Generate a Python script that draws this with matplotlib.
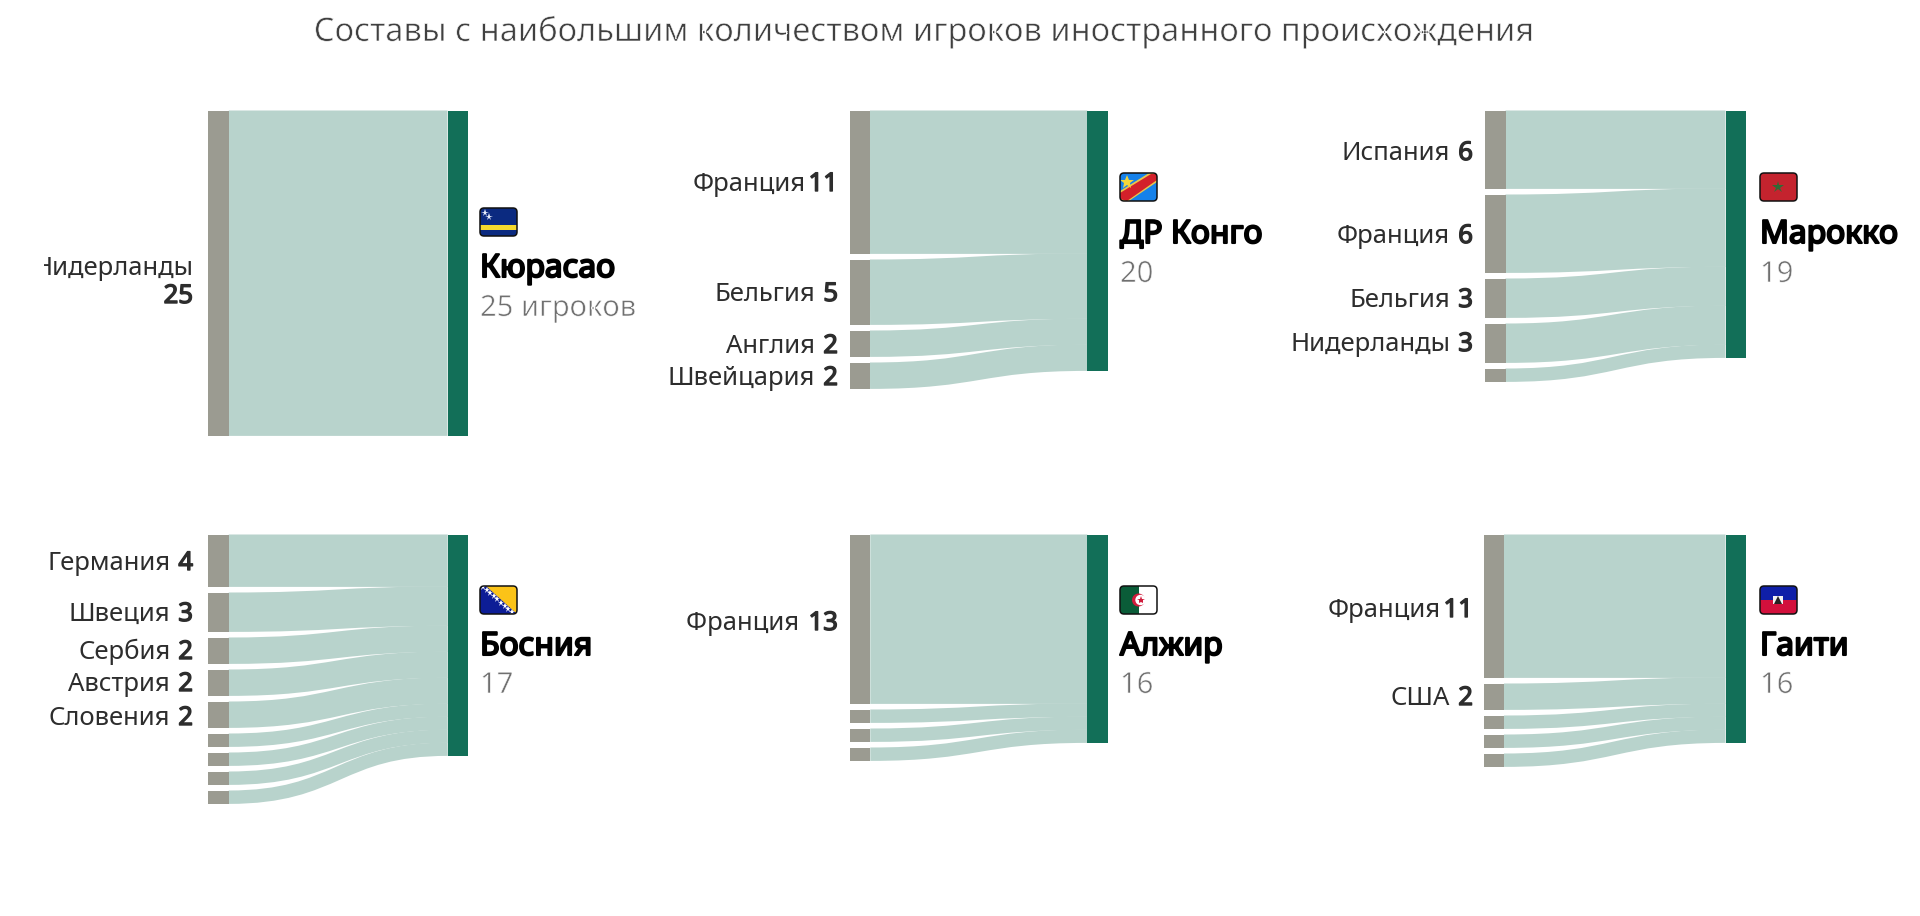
#!/usr/bin/env python3

import matplotlib
matplotlib.use('Agg')
import matplotlib.pyplot as plt
import matplotlib.patheffects as pe
from matplotlib.patches import FancyBboxPatch, PathPatch, Polygon, Circle, Rectangle
from matplotlib.path import Path

plt.rcParams['font.family'] = ['Noto Sans', 'DejaVu Sans']

W, H = 1920, 916
UNIT = 13.0      # pixels per player
GAP = 6.0        # pixels between source nodes
NODE_W = 20.5

title = 'Составы с наибольшим количеством игроков иностранного происхождения'

teams = ['Кюрасао', 'ДР Конго', 'Марокко', 'Босния', 'Алжир', 'Гаити']
count_labels = ['25 игроков', '20', '19', '17', '16', '16']

curacao_values = [25]
congo_values = [11, 5, 2, 2]
morocco_values = [6, 6, 3, 3, 1]
bosnia_values = [4, 3, 2, 2, 2, 1, 1, 1, 1]
algeria_values = [13, 1, 1, 1]
haiti_values = [11, 2, 1, 1, 1]

curacao_labels = ['Нидерланды']
congo_labels = ['Франция', 'Бельгия', 'Англия', 'Швейцария']
morocco_labels = ['Испания', 'Франция', 'Бельгия', 'Нидерланды']
bosnia_labels = ['Германия', 'Швеция', 'Сербия', 'Австрия', 'Словения']
algeria_labels = ['Франция ']
haiti_labels = ['Франция', 'США']

all_values = [curacao_values, congo_values, morocco_values, bosnia_values, algeria_values, haiti_values]
all_labels = [curacao_labels, congo_labels, morocco_labels, bosnia_labels, algeria_labels, haiti_labels]

# panel geometry in pixels: left node x, right node x, top y
panel_x0 = [208.3, 849.5, 1485, 208.2, 849.8, 1483.5]
panel_x1 = [468, 1107.8, 1746, 468.2, 1107.8, 1746]
panel_top = [110.7, 110.7, 110.7, 534.7, 534.7, 534.7]
label_right = [193, 838, 1473, 193, 838, 1473]
label_y = [[], [182, 292, 344, 376], [151, 234, 298, 342],
           [561, 612, 650, 682, 716], [621], [608, 696]]
flag_x = [480, 1120, 1760, 480, 1120, 1760]
flag_y = [208, 173, 173, 586, 586, 586]
name_y = [266, 232, 232, 644, 644, 644]
count_y = [305, 271, 271, 682, 682, 682]

NODE_COLOR = '#9b9b91'
TARGET_COLOR = '#126f58'
LINK_COLOR = '#b8d3cc'
TEXT_COLOR = '#2d2d2d'

# the installed Noto Sans has one weight, so heavier and lighter text is stroked
bold_num = [pe.withStroke(linewidth=1.0, foreground=TEXT_COLOR)]
bold_name = [pe.withStroke(linewidth=1.5, foreground='black')]
thin_text = [pe.Stroke(linewidth=0.45, foreground='white')]

fig = plt.figure(figsize=(W / 100, H / 100), dpi=100, facecolor='white')

# overlay in pixel coordinates for the text and the flags
over = fig.add_axes([0, 0, 1, 1], zorder=5)
over.set_xlim(0, W)
over.set_ylim(H, 0)
over.axis('off')
over.patch.set_alpha(0)
renderer = fig.canvas.get_renderer()

LABEL_SIZE = 18.5


def draw_panel(i):
    values = all_values[i]
    gap = GAP / UNIT
    width = panel_x1[i] - panel_x0[i]
    src_height = sum(values) + gap * (len(values) - 1)
    ax = fig.add_axes([panel_x0[i] / W, 1 - (panel_top[i] + src_height * UNIT) / H,
                       width / W, src_height * UNIT / H])
    ax.set_xlim(0, width)
    ax.set_ylim(src_height, 0)
    ax.axis('off')

    # ribbons are thick strokes along a horizontal bezier, like a d3 sankey link
    y_src = 0
    y_dst = 0
    xa, xb = NODE_W, width - NODE_W
    xm = (xa + xb) / 2
    for v in values:
        ya = y_src + v / 2
        yb = y_dst + v / 2
        path = Path([(xa, ya), (xm, ya), (xm, yb), (xb, yb)],
                    [Path.MOVETO, Path.CURVE4, Path.CURVE4, Path.CURVE4])
        ax.add_patch(PathPatch(path, fc='none', ec=LINK_COLOR, lw=(v * UNIT + 0.4) * 0.72,
                               capstyle='butt', clip_on=False, zorder=1))
        y_src += v + gap
        y_dst += v

    y_src = 0
    for v in values:
        ax.bar(0, v, width=NODE_W, bottom=y_src, align='edge', color=NODE_COLOR, zorder=2)
        y_src += v + gap
    ax.bar(width - NODE_W, sum(values), width=NODE_W, bottom=0, align='edge',
           color=TARGET_COLOR, zorder=2)


def source_label(x, y, name, value):
    num = over.text(x, y, str(value), ha='right', va='baseline', fontsize=LABEL_SIZE,
                    color=TEXT_COLOR, path_effects=bold_num)
    w = num.get_window_extent(renderer).width
    space = 3 if value > 9 else 8
    over.text(x - w - space, y, name, ha='right', va='baseline', fontsize=LABEL_SIZE,
              color=TEXT_COLOR)


def flag_frame(x, y, fc):
    frame = FancyBboxPatch((x + 3, y + 3), 31, 22, boxstyle='round,pad=3,rounding_size=4',
                           fc=fc, ec='none', transform=over.transData, zorder=6)
    over.add_patch(frame)
    return frame


def flag_border(x, y):
    over.add_patch(FancyBboxPatch((x + 3, y + 3), 31, 22, boxstyle='round,pad=3,rounding_size=4',
                                  fc='none', ec='#111111', lw=1.1, zorder=9))


def draw_flag(i):
    x, y = flag_x[i], flag_y[i]
    w, h = 37, 28
    if i == 0:
        flag_frame(x, y, '#0b2a80')
        over.add_patch(Rectangle((x, y + h * 0.62), w, 4.2, fc='#f5d92e', zorder=7))
        over.plot([x + 4.5, x + 8.5], [y + 5, y + 9], ls='', marker='*', ms=5.5,
                  color='#e8eefc', mew=0, zorder=8)
    elif i == 1:
        frame = flag_frame(x, y, '#1581ea')
        band = Polygon([(x, y + h), (x, y + h - 10), (x + w - 8, y), (x + w, y), (x + w, y + 9), (x + 9, y + h)],
                       fc='#e8c64a', zorder=7)
        red = Polygon([(x, y + h - 2), (x, y + h - 8), (x + w - 6, y + 1), (x + w, y + 1), (x + w, y + 7), (x + 7, y + h)],
                      fc='#d3202a', zorder=7)
        over.add_patch(band)
        over.add_patch(red)
        band.set_clip_path(frame)
        red.set_clip_path(frame)
        over.plot([x + 6.5], [y + 8.5], ls='', marker='*', ms=10, color='#f3d63a', mew=0, zorder=8)
    elif i == 2:
        flag_frame(x, y, '#c4232e')
        over.plot([x + 18], [y + 14], ls='', marker='*', ms=9, color='#2f6b35', mew=0, zorder=8)
    elif i == 3:
        frame = flag_frame(x, y, '#0d1d96')
        tri = Polygon([(x + 6, y), (x + w, y), (x + w, y + h)], fc='#fbc318', zorder=7)
        over.add_patch(tri)
        tri.set_clip_path(frame)
        xs = [x + 3 + k * 3.6 for k in range(9)]
        ys = [y + 1 + k * 3.1 for k in range(9)]
        over.plot(xs, ys, ls='', marker='*', ms=5, color='white', mew=0, zorder=8)
    elif i == 4:
        frame = flag_frame(x, y, 'white')
        green = Rectangle((x, y), w / 2, h, fc='#0a5c38', zorder=7)
        over.add_patch(green)
        green.set_clip_path(frame)
        over.add_patch(Circle((x + 18.5, y + 14), 6.5, fc='#d01c3c', zorder=7))
        over.add_patch(Circle((x + 20.5, y + 14), 5.2, fc='#ffffff', zorder=7))
        over.plot([x + 21], [y + 14], ls='', marker='*', ms=6, color='#d01c3c', mew=0, zorder=8)
    else:
        frame = flag_frame(x, y, '#d2103c')
        blue = Rectangle((x, y), w, h / 2, fc='#0f1fa8', zorder=7)
        over.add_patch(blue)
        blue.set_clip_path(frame)
        over.add_patch(Rectangle((x + 13, y + 10), 10, 8, fc='#f2f2f2', zorder=8))
        over.plot([x + 18], [y + 14], ls='', marker='^', ms=6, color='#222222', mew=0, zorder=9)
    flag_border(x, y)


for i in range(6):
    draw_panel(i)
    draw_flag(i)
    tx = flag_x[i]
    over.text(tx, name_y[i] + 11, teams[i], ha='left', va='baseline', fontsize=23,
              color='black', path_effects=bold_name)
    over.text(tx, count_y[i] + 11, count_labels[i], ha='left', va='baseline', fontsize=21,
              color='#707070', path_effects=thin_text)
    for k, name in enumerate(all_labels[i]):
        if label_y[i]:
            source_label(label_right[i], label_y[i][k] + 9, name, all_values[i][k])

# the long label wraps in its narrow column and loses its first letter at the column edge
col_edge = Rectangle((44, 240), 200, 70, transform=over.transData)
wrapped = over.text(label_right[0] + 1, 275, curacao_labels[0], ha='right', va='baseline',
                    fontsize=LABEL_SIZE, color=TEXT_COLOR)
wrapped.set_clip_path(col_edge)
wrapped.set_clip_on(True)
over.text(label_right[0], 303, str(curacao_values[0]), ha='right', va='baseline',
          fontsize=LABEL_SIZE, color=TEXT_COLOR, path_effects=bold_num)

over.text(924.5, 41, title, ha='center', va='baseline', fontsize=23.5, color='#404040',
          path_effects=thin_text)

fig.savefig('out.png', dpi=100)
